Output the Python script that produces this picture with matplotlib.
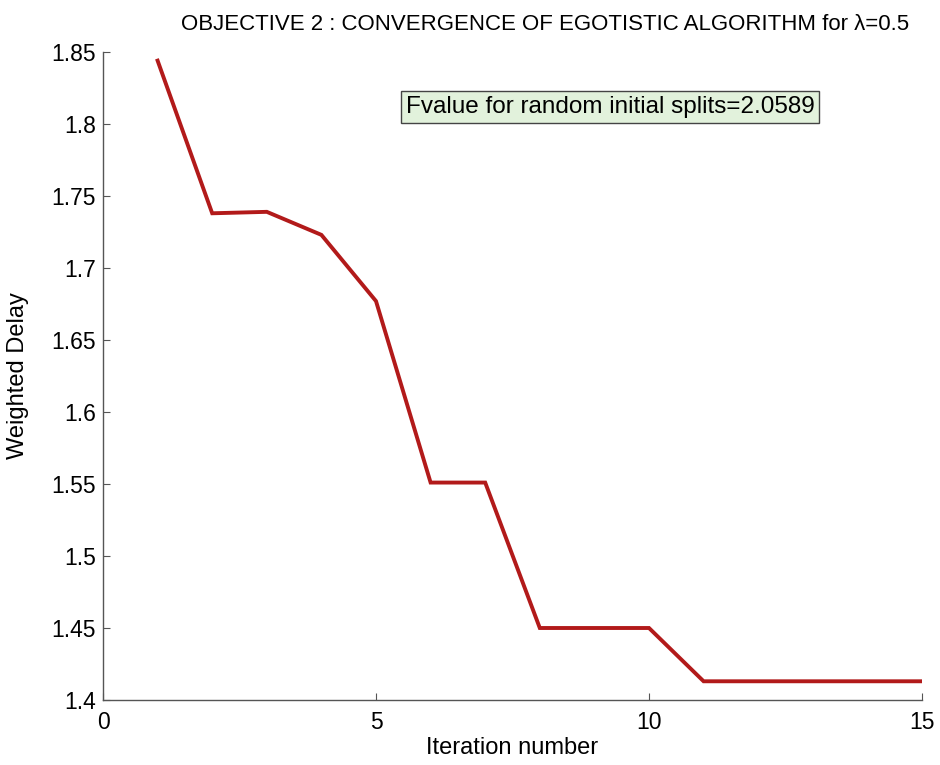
import matplotlib
matplotlib.use("Agg")
import matplotlib.pyplot as plt

plt.rcParams['font.family'] = ['Liberation Sans', 'DejaVu Sans']

iterations = [1, 2, 3, 4, 5, 6, 7, 8, 9, 10, 11, 12, 13, 14, 15]
weighted_delay = [1.844, 1.738, 1.739, 1.723, 1.677, 1.551, 1.551, 1.450, 1.450, 1.450,
                  1.413, 1.413, 1.413, 1.413, 1.413]
x_ticks = [0, 5, 10, 15]
y_ticks = [1.4, 1.45, 1.5, 1.55, 1.6, 1.65, 1.7, 1.75, 1.8, 1.85]
y_ticklabels = ['1.4', '1.45', '1.5', '1.55', '1.6', '1.65', '1.7', '1.75', '1.8', '1.85']
title = "OBJECTIVE 2 : CONVERGENCE OF EGOTISTIC ALGORITHM for λ=0.5"
annotation = "Fvalue for random initial splits=2.0589"

fig = plt.figure(figsize=(9.4, 7.65), dpi=100)
ax = fig.add_axes([103/940, 1 - 700/765, (922-103)/940, (700-52)/765])

ax.plot(iterations, weighted_delay, color='#b21a1a', linewidth=2.8, solid_joinstyle='miter')

ax.set_xlim(0, 15)
ax.set_ylim(1.4, 1.85)
ax.set_xticks(x_ticks)
ax.set_yticks(y_ticks)
ax.set_yticklabels(y_ticklabels)

for s in ['top', 'right']:
    ax.spines[s].set_visible(False)
for s in ['left', 'bottom']:
    ax.spines[s].set_color('#555555')
    ax.spines[s].set_linewidth(1.0)

ax.tick_params(direction='in', length=5, width=0.8, color='#555555',
               labelsize=16.5, labelcolor='black')
ax.tick_params(axis='y', pad=5)
ax.tick_params(axis='x', pad=8)

ax.set_xlabel("Iteration number", fontsize=17)
ax.set_ylabel("Weighted Delay", fontsize=17)
ax.xaxis.set_label_coords(0.5, -(748-700)/648)
ax.yaxis.set_label_coords(-(103-18)/819, 0.5)
ax.xaxis.label.set_va('center')
ax.yaxis.label.set_va('center')

fig.text(545/940, 1 - 25/765, title, fontsize=16, ha='center', va='center')

ax.text((610-103)/819, 1 - (107-52)/648, annotation, transform=ax.transAxes,
        fontsize=17.5, ha='center', va='center',
        bbox=dict(boxstyle='square,pad=0.2', facecolor='#e2f2dc', edgecolor='#444444', linewidth=1.0))

fig.savefig("out.png", dpi=100)
